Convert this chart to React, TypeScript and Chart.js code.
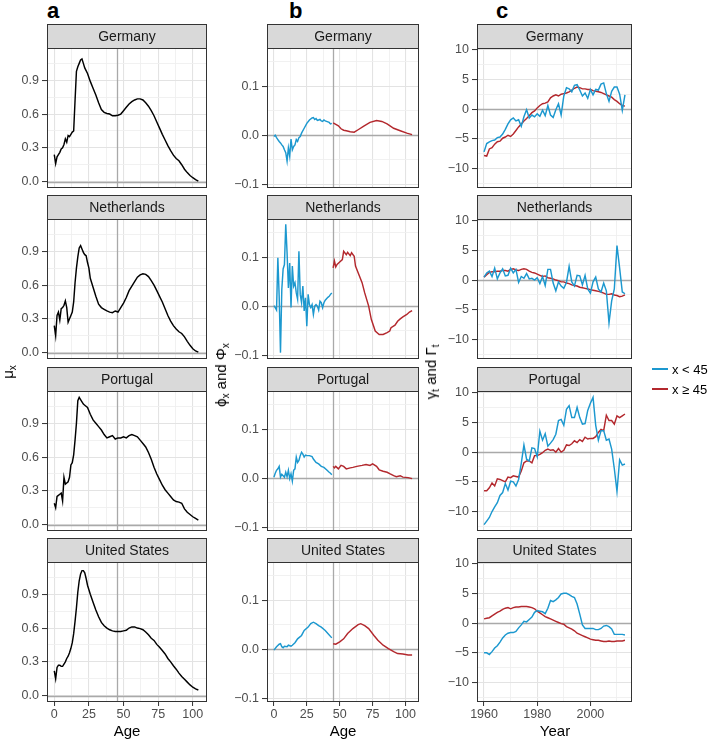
import React, { useEffect, useRef } from "react";
import { Chart, registerables } from "chart.js";

Chart.register(...registerables);

// ---------------- data ----------------
const COUNTRIES = ["Germany", "Netherlands", "Portugal", "United States"];

const AGE_TICKS = [0, 25, 50, 75, 100];
const AGE_MINOR = [12.5, 37.5, 62.5, 87.5];
const YEAR_TICKS = [1960, 1980, 2000];
const YEAR_MINOR = [1970, 1990, 2010];
const MU_TICKS = [0, 0.3, 0.6, 0.9];
const MU_MINOR = [0.15, 0.45, 0.75, 1.05];
const PHI_TICKS = [-0.1, 0, 0.1];
const PHI_MINOR = [-0.05, 0.05, 0.15];
const GAMMA_TICKS = [-10, -5, 0, 5, 10];
const GAMMA_MINOR = [-12.5, -7.5, -2.5, 2.5, 7.5];

const YEARS = [
  1960, 1961, 1962, 1963, 1964, 1965, 1966, 1967, 1968, 1969,
  1970, 1971, 1972, 1973, 1974, 1975, 1976, 1977, 1978, 1979,
  1980, 1981, 1982, 1983, 1984, 1985, 1986, 1987, 1988, 1989,
  1990, 1991, 1992, 1993, 1994, 1995, 1996, 1997, 1998, 1999,
  2000, 2001, 2002, 2003, 2004, 2005, 2006, 2007, 2008, 2009,
  2010, 2011, 2012, 2013,
];

// column a: mu_x
const muAgeDE = [0, 1, 2, 3, 4, 5, 6, 7, 8, 9, 10, 11, 12, 13, 14, 15, 16, 17, 18, 19, 20, 21, 22, 24, 26, 28, 30, 32, 34, 36, 38, 40, 42, 44, 46, 48, 50, 52, 54, 56, 58, 60, 62, 64, 66, 68, 70, 72, 74, 76, 78, 80, 82, 84, 86, 88, 90, 92, 94, 96, 98, 100, 102, 104];
const muDE = [0.24, 0.16, 0.22, 0.24, 0.26, 0.29, 0.3, 0.33, 0.38, 0.35, 0.41, 0.4, 0.42, 0.44, 0.45, 0.72, 0.98, 1.02, 1.05, 1.08, 1.09, 1.05, 1.01, 0.96, 0.89, 0.83, 0.77, 0.7, 0.64, 0.615, 0.605, 0.6, 0.585, 0.585, 0.59, 0.6, 0.63, 0.66, 0.69, 0.71, 0.725, 0.735, 0.735, 0.725, 0.7, 0.67, 0.63, 0.585, 0.53, 0.475, 0.42, 0.37, 0.32, 0.275, 0.235, 0.205, 0.185, 0.15, 0.11, 0.08, 0.055, 0.035, 0.018, 0.005];

const muAgeNL = [0, 1, 2, 3, 4, 5, 6, 7, 8, 9, 10, 11, 12, 13, 14, 15, 16, 17, 18, 19, 20, 21, 22, 23, 24, 25, 26, 27, 28, 30, 32, 34, 36, 38, 40, 42, 44, 45, 46, 48, 50, 52, 54, 56, 58, 60, 62, 64, 66, 68, 70, 72, 74, 76, 78, 80, 82, 84, 86, 88, 90, 92, 94, 96, 98, 100, 102, 104];
const muNL = [0.24, 0.15, 0.33, 0.36, 0.29, 0.39, 0.4, 0.42, 0.46, 0.4, 0.27, 0.3, 0.33, 0.36, 0.45, 0.62, 0.75, 0.85, 0.93, 0.95, 0.92, 0.89, 0.87, 0.86, 0.8, 0.75, 0.66, 0.62, 0.58, 0.5, 0.43, 0.4, 0.385, 0.37, 0.36, 0.355, 0.37, 0.365, 0.36, 0.4, 0.44, 0.49, 0.55, 0.59, 0.63, 0.67, 0.69, 0.7, 0.695, 0.675, 0.64, 0.6, 0.55, 0.5, 0.45, 0.39, 0.33, 0.28, 0.24, 0.21, 0.185, 0.17, 0.14, 0.1, 0.065, 0.035, 0.015, 0.004];

const muAgePT = [0, 1, 2, 3, 4, 5, 6, 7, 8, 9, 10, 11, 12, 13, 14, 15, 16, 17, 18, 19, 20, 21, 22, 24, 26, 28, 30, 32, 34, 36, 38, 40, 42, 44, 46, 48, 50, 52, 54, 56, 58, 60, 62, 64, 66, 68, 70, 72, 74, 76, 78, 80, 82, 84, 86, 88, 90, 92, 94, 96, 98, 100, 102, 104];
const muPT = [0.19, 0.15, 0.25, 0.26, 0.27, 0.28, 0.21, 0.42, 0.36, 0.37, 0.38, 0.42, 0.53, 0.55, 0.62, 0.75, 0.9, 1.1, 1.13, 1.11, 1.09, 1.07, 1.06, 1.04, 0.98, 0.93, 0.9, 0.87, 0.84, 0.8, 0.77, 0.78, 0.79, 0.76, 0.77, 0.77, 0.78, 0.77, 0.79, 0.8, 0.79, 0.78, 0.75, 0.72, 0.69, 0.64, 0.58, 0.51, 0.45, 0.4, 0.35, 0.31, 0.28, 0.25, 0.22, 0.205, 0.2, 0.19, 0.14, 0.11, 0.09, 0.07, 0.055, 0.04];

const muAgeUS = [0, 1, 2, 3, 4, 5, 6, 7, 8, 9, 10, 11, 12, 13, 14, 15, 16, 17, 18, 19, 20, 21, 22, 23, 24, 25, 26, 28, 30, 32, 34, 36, 38, 40, 42, 44, 46, 48, 50, 52, 54, 56, 58, 60, 62, 64, 66, 68, 70, 72, 74, 76, 78, 80, 82, 84, 86, 88, 90, 92, 94, 96, 98, 100, 102, 104];
const muUS = [0.22, 0.15, 0.25, 0.27, 0.27, 0.26, 0.26, 0.28, 0.3, 0.33, 0.35, 0.38, 0.42, 0.47, 0.55, 0.66, 0.78, 0.92, 1.02, 1.08, 1.11, 1.11, 1.09, 1.04, 0.98, 0.94, 0.9, 0.83, 0.76, 0.7, 0.65, 0.62, 0.6, 0.585, 0.575, 0.57, 0.57, 0.57, 0.575, 0.58, 0.6, 0.61, 0.61, 0.6, 0.595, 0.585, 0.565, 0.54, 0.51, 0.49, 0.455, 0.43, 0.4, 0.37, 0.33, 0.3, 0.265, 0.235, 0.2, 0.17, 0.145, 0.12, 0.095, 0.075, 0.06, 0.05];

// column b: phi_x (x < 45) and Phi_x (x >= 45)
const phiAgeDE = [0, 1, 2, 3, 4, 5, 6, 7, 8, 9, 10, 11, 12, 13, 14, 15, 16, 17, 18, 19, 20, 21, 23, 25, 27, 29, 30, 31, 32, 33, 34, 35, 36, 37, 38, 39, 40, 42, 43, 44];
const phiDE = [-0.003, 0, -0.005, -0.009, -0.013, -0.016, -0.02, -0.023, -0.03, -0.036, -0.053, -0.026, -0.043, -0.008, -0.03, -0.023, -0.02, -0.009, -0.013, -0.005, -0.003, 0.004, 0.014, 0.024, 0.031, 0.035, 0.036, 0.032, 0.034, 0.03, 0.031, 0.032, 0.029, 0.028, 0.031, 0.029, 0.028, 0.026, 0.023, 0.024];
const PhiAgeDE = [45, 49, 51, 53, 55, 58, 61, 64, 68, 73, 78, 82, 86, 91, 96, 101, 105];
const PhiDE = [0.025, 0.019, 0.013, 0.01, 0.009, 0.007, 0.006, 0.011, 0.018, 0.026, 0.03, 0.028, 0.023, 0.014, 0.009, 0.004, 0.001];

const phiAgeNL = [0, 1, 2, 3, 4, 5, 6, 7, 8, 9, 10, 11, 12, 13, 14, 15, 16, 17, 18, 19, 20, 21, 22, 23, 24, 25, 26, 27, 28, 29, 30, 31, 32, 33, 34, 35, 36, 37, 38, 39, 40, 41, 42, 43, 44];
const phiNL = [0.001, -0.003, -0.008, 0.099, 0.02, -0.095, 0.034, 0.076, 0.085, 0.167, 0.109, 0.037, 0.088, -0.003, 0.082, 0.041, 0.048, 0.027, 0.014, 0.112, 0.024, 0.007, 0.041, -0.01, 0.017, -0.041, 0.024, 0.003, -0.003, 0.003, -0.017, 0, 0.003, 0, -0.008, 0.01, 0.007, -0.003, 0.007, 0.012, 0.015, 0.018, 0.02, 0.024, 0.027];
const PhiAgeNL = [45, 46, 47, 48, 50, 52, 53, 55, 56, 58, 59, 61, 62, 64, 67, 69, 72, 74, 77, 80, 83, 86, 88, 89, 92, 94, 96, 98, 101, 103, 105];
const PhiNL = [0.078, 0.092, 0.08, 0.085, 0.09, 0.095, 0.112, 0.105, 0.11, 0.103, 0.109, 0.102, 0.082, 0.068, 0.048, 0.027, 0, -0.027, -0.051, -0.058, -0.058, -0.054, -0.051, -0.044, -0.039, -0.031, -0.026, -0.022, -0.017, -0.012, -0.009];

const phiAgePT = [0, 1, 2, 3, 4, 5, 6, 7, 8, 9, 10, 11, 12, 13, 14, 15, 16, 17, 18, 19, 20, 21, 22, 23, 24, 25, 27, 29, 30, 32, 34, 36, 38, 40, 42, 43, 44];
const phiPT = [0.002, 0.01, 0.016, 0.019, 0.024, 0.002, 0.008, 0.005, 0.002, 0.012, 0.003, 0.016, -0.001, 0.009, -0.006, 0.016, 0.019, 0.043, 0.032, 0.036, 0.046, 0.053, 0.049, 0.043, 0.047, 0.046, 0.046, 0.044, 0.039, 0.032, 0.029, 0.024, 0.022, 0.017, 0.012, 0.01, 0.007];
const PhiAgePT = [45, 46, 47, 49, 51, 53, 55, 58, 60, 63, 67, 70, 73, 75, 78, 80, 83, 86, 88, 91, 93, 96, 98, 102, 105];
const PhiPT = [0.024, 0.021, 0.024, 0.019, 0.026, 0.024, 0.019, 0.021, 0.022, 0.024, 0.026, 0.028, 0.026, 0.029, 0.024, 0.017, 0.014, 0.012, 0.009, 0.005, 0.003, 0.005, 0.002, 0.001, -0.001];

const phiAgeUS = [0, 2, 4, 5, 6, 7, 8, 10, 11, 13, 14, 16, 18, 21, 23, 26, 28, 30, 32, 34, 36, 39, 41, 44];
const phiUS = [-0.002, 0.005, 0.01, 0.011, 0.005, 0.003, 0.006, 0.005, 0.008, 0.006, 0.008, 0.013, 0.021, 0.028, 0.038, 0.045, 0.052, 0.055, 0.052, 0.048, 0.045, 0.038, 0.032, 0.023];
const PhiAgeUS = [45, 47, 50, 53, 56, 60, 64, 66, 69, 72, 76, 79, 83, 87, 91, 94, 98, 102, 105];
const PhiUS = [0.011, 0.01, 0.015, 0.021, 0.032, 0.042, 0.05, 0.052, 0.048, 0.042, 0.028, 0.018, 0.008, 0.001, -0.005, -0.009, -0.01, -0.012, -0.012];

// column c: gamma_t (x < 45) and Gamma_t (x >= 45), 1960-2013
const gammaDE = [-7.2, -5.8, -5.5, -5.3, -5.2, -4.8, -4.7, -4.2, -3.4, -2.5, -1.8, -1.5, -2.0, -1.8, -2.9, -1.3, -0.1, -1.5, -1.0, -1.3, -0.8, -1.2, -0.2, -1.1, 0.6, -1.0, -1.4, -0.1, 0.9, -1.0, 2.2, 3.6, 3.4, 2.9, 4.0, 4.1, 3.2, 2.2, 2.7, 1.8, 3.3, 2.4, 3.3, 3.2, 4.2, 4.4, 2.6, 1.3, 3.0, 3.7, 3.7, 2.5, -0.2, 2.4];
const GammaDE = [-7.8, -7.9, -6.7, -6.5, -5.9, -5.5, -5.4, -4.9, -4.7, -4.4, -4.6, -4.2, -3.6, -3.0, -2.5, -2.0, -1.6, -1.1, -0.6, -0.3, 0.2, 0.6, 0.9, 1.0, 1.2, 1.9, 2.2, 2.4, 2.2, 2.5, 2.6, 2.7, 2.9, 3.2, 3.5, 3.7, 3.6, 3.4, 3.4, 3.3, 3.3, 3.1, 3.0, 2.9, 2.8, 2.6, 2.4, 2.2, 2.0, 1.6, 1.3, 0.9, 0.6, 0.5];

const gammaNL = [0.5, 1.2, 1.5, 0.6, 2.0, 0.2, 1.2, 1.9, 0.7, 0.8, 2.0, 1.2, 1.8, -0.4, 0.6, 0.3, 1.1, 0.2, 0.3, 0.0, 0.4, -0.6, 0.6, -0.9, 1.8, 1.8, -0.5, -1.8, -0.3, -1.0, -1.4, -0.4, 2.3, -0.3, -1.0, 0.8, 0.7, -0.8, 0.8, -1.5, -2.2, -0.3, 0.5, -1.5, -2.0, -0.5, -1.8, -7.2, -3.5, -1.5, 5.8, 2.0, -2.0, -2.3];
const GammaNL = [0.5, 0.9, 1.3, 1.4, 1.4, 1.5, 1.5, 1.6, 1.6, 1.5, 1.8, 1.9, 1.7, 1.6, 1.8, 1.9, 1.8, 1.5, 1.3, 1.2, 1.0, 0.8, 0.6, 0.7, 0.4, 0.3, 0.2, 0.0, -0.1, -0.3, -0.3, -0.5, -0.6, -0.8, -0.9, -1.0, -1.2, -1.3, -1.4, -1.5, -1.6, -1.7, -1.8, -1.9, -2.0, -2.2, -2.4, -2.4, -2.3, -2.5, -2.6, -2.8, -2.7, -2.5];

const gammaPT = [-12.2, -11.6, -11.0, -10.0, -9.2, -8.5, -7.3, -6.8, -5.3, -6.4, -4.9, -5.0, -5.7, -4.6, -1.9, 1.2, -1.2, -1.5, 0.7, 0.6, -0.8, 3.5, 2.0, 3.1, 1.0, 1.5, 2.1, 3.0, 5.3, 5.5, 4.5, 7.2, 7.8, 5.8, 5.8, 7.5, 5.8, 4.7, 4.8, 7.0, 8.2, 9.2, 4.5, 2.0, 3.6, 3.6, 2.0, 2.2, 0.5, -2.8, -6.6, -1.3, -2.2, -2.0];
const GammaPT = [-6.5, -6.5, -6.0, -5.2, -5.7, -4.5, -4.6, -4.8, -5.0, -4.2, -4.3, -4.0, -4.1, -4.2, -3.2, -1.8, -1.5, -1.5, -1.8, -0.6, -0.6, -0.4, -0.1, 0.3, 0.5, 0.3, 0.4, 0.0, 0.6, 0.0, 0.3, 1.2, 1.1, 1.4, 1.9, 1.6, 2.1, 1.8, 2.5, 2.2, 2.3, 2.3, 2.6, 3.3, 3.8, 3.6, 6.2, 5.3, 5.3, 4.7, 6.1, 5.8, 6.1, 6.4];

const gammaUS = [-5.0, -5.0, -5.3, -4.8, -4.2, -3.8, -3.2, -2.5, -2.0, -1.7, -1.6, -1.6, -1.4, -0.8, -0.3, 0.3, 0.2, 0.6, 1.0, 1.8, 2.1, 2.0, 1.9, 1.6, 2.5, 3.8, 3.6, 3.9, 4.3, 4.9, 5.0, 5.0, 4.8, 4.5, 4.3, 3.2, 1.5, -0.3, -0.9, -0.9, -0.9, -0.9, -1.1, -1.1, -0.9, -0.5, -0.4, -0.6, -1.0, -1.9, -1.9, -1.9, -1.9, -2.0];
const GammaUS = [0.7, 0.8, 0.9, 1.2, 1.5, 1.8, 2.0, 2.3, 2.5, 2.6, 2.4, 2.6, 2.7, 2.7, 2.8, 2.8, 2.8, 2.7, 2.6, 2.4, 2.0, 1.7, 1.4, 1.1, 0.9, 0.7, 0.5, 0.3, 0.1, -0.1, -0.2, -0.6, -0.8, -1.0, -1.3, -1.7, -1.9, -2.1, -2.3, -2.5, -2.7, -2.8, -2.9, -2.9, -3.0, -3.1, -3.1, -3.0, -3.1, -3.1, -3.0, -3.0, -3.0, -2.9];

// ---------------- styling ----------------
const BLUE = "#1C98CF";
const RED = "#B3282D";
const FONT = "'Liberation Sans', Arial, Helvetica, sans-serif";
const STRIP_H = 24;
const PLOT_H = 140;
const Y_W = 40;
const X_H = 20;
const PAD_R = 3;
const TICK_LEN = 5;
const STRIP_TOPS = [24, 195, 367, 538];
const COLS = [
  { plotLeft: 47, plotW: 160 },
  { plotLeft: 267, plotW: 152 },
  { plotLeft: 477, plotW: 155 },
];
const GRID_MAJOR = "#E3E3E3";
const GRID_MINOR = "#EFEFEF";

type Series = { xs: number[]; ys: number[]; color: string };
type PanelProps = {
  col: number;
  row: number;
  title: string;
  xMin: number;
  xMax: number;
  xMajor: number[];
  xMinor: number[];
  yMin: number;
  yMax: number;
  yMajor: number[];
  yMinor: number[];
  yFmt: (v: number) => string;
  vline: number | null;
  series: Series[];
};

const minus = (s: string) => s.replace("-", "\u2212");
const isIn = (arr: number[], v: number) => arr.some((m) => Math.abs(m - v) < 1e-9);

function Panel(p: PanelProps) {
  const ref = useRef<HTMLCanvasElement | null>(null);
  const showX = p.row === 3;
  const { plotLeft, plotW } = COLS[p.col];
  const W = Y_W + plotW + PAD_R;
  const H = STRIP_H + PLOT_H + (showX ? X_H : 0);

  useEffect(() => {
    const canvas = ref.current;
    if (!canvas) return;
    const panelPlugin = {
      id: "panelDeco",
      beforeDatasetsDraw(chart: any) {
        const { ctx, chartArea, scales } = chart;
        ctx.save();
        ctx.strokeStyle = "#A9A9A9";
        ctx.lineWidth = 1.3;
        const y0 = Math.round(scales.y.getPixelForValue(0)) + 0.5;
        ctx.beginPath();
        ctx.moveTo(chartArea.left, y0);
        ctx.lineTo(chartArea.right, y0);
        ctx.stroke();
        if (p.vline !== null) {
          const xv = Math.round(scales.x.getPixelForValue(p.vline)) + 0.5;
          ctx.beginPath();
          ctx.moveTo(xv, chartArea.top);
          ctx.lineTo(xv, chartArea.bottom);
          ctx.stroke();
        }
        ctx.restore();
      },
      afterDraw(chart: any) {
        const { ctx, chartArea } = chart;
        const l = chartArea.left;
        const t = chartArea.top;
        const w = chartArea.right - chartArea.left;
        const h = chartArea.bottom - chartArea.top;
        ctx.save();
        ctx.fillStyle = "#D9D9D9";
        ctx.fillRect(l, t - STRIP_H, w, STRIP_H);
        ctx.strokeStyle = "#333333";
        ctx.lineWidth = 1;
        ctx.strokeRect(l + 0.5, t - STRIP_H + 0.5, w - 1, STRIP_H);
        ctx.strokeRect(l + 0.5, t + 0.5, w - 1, h - 1);
        ctx.fillStyle = "#1A1A1A";
        ctx.font = `14px ${FONT}`;
        ctx.textAlign = "center";
        ctx.textBaseline = "middle";
        ctx.fillText(p.title, l + w / 2, t - STRIP_H / 2 + 1);
        ctx.restore();
      },
    };

    const zeroPad = (s: any) => {
      s.paddingLeft = 0;
      s.paddingRight = 0;
      s.paddingTop = 0;
      s.paddingBottom = 0;
    };

    const chart = new Chart(canvas, {
      type: "line",
      data: {
        datasets: p.series.map((s) => ({
          data: s.xs.map((x, i) => ({ x, y: s.ys[i] })),
          borderColor: s.color,
          borderWidth: 1.45,
          pointRadius: 0,
          fill: false,
          tension: 0,
        })),
      },
      options: {
        animation: false,
        responsive: false,
        devicePixelRatio: 1,
        events: [],
        layout: { padding: { top: STRIP_H, right: PAD_R, left: 0, bottom: 0 } },
        plugins: {
          legend: { display: false },
          tooltip: { enabled: false },
          title: { display: false },
        },
        scales: {
          x: {
            type: "linear",
            min: p.xMin,
            max: p.xMax,
            afterBuildTicks: (s: any) => {
              s.ticks = [...p.xMajor, ...p.xMinor]
                .sort((a, b) => a - b)
                .map((v) => ({ value: v }));
            },
            afterFit: (s: any) => {
              s.height = showX ? X_H : 0;
              zeroPad(s);
            },
            ticks: {
              display: showX,
              autoSkip: false,
              maxRotation: 0,
              padding: 1,
              color: "#4D4D4D",
              font: { family: FONT, size: 12.5 },
              callback: (v: any) => (isIn(p.xMajor, Number(v)) ? String(v) : ""),
            },
            grid: {
              color: (c: any) => (isIn(p.xMajor, c.tick?.value) ? GRID_MAJOR : GRID_MINOR),
              lineWidth: (c: any) => (isIn(p.xMajor, c.tick?.value) ? 1.1 : 0.9),
              drawTicks: showX,
              tickLength: TICK_LEN - 1,
              tickWidth: 1,
              tickColor: (c: any) => (isIn(p.xMajor, c.tick?.value) ? "#333333" : "rgba(0,0,0,0)"),
            },
            border: { display: false },
          },
          y: {
            type: "linear",
            position: "left",
            min: p.yMin,
            max: p.yMax,
            afterBuildTicks: (s: any) => {
              s.ticks = [...p.yMajor, ...p.yMinor]
                .sort((a, b) => a - b)
                .map((v) => ({ value: v }));
            },
            afterFit: (s: any) => {
              s.width = Y_W;
              zeroPad(s);
            },
            ticks: {
              autoSkip: false,
              padding: 3,
              color: "#4D4D4D",
              font: { family: FONT, size: 12.5 },
              callback: (v: any) => (isIn(p.yMajor, Number(v)) ? p.yFmt(Number(v)) : ""),
            },
            grid: {
              color: (c: any) => (isIn(p.yMajor, c.tick?.value) ? GRID_MAJOR : GRID_MINOR),
              lineWidth: (c: any) => (isIn(p.yMajor, c.tick?.value) ? 1.1 : 0.9),
              drawTicks: true,
              tickLength: TICK_LEN,
              tickWidth: 1,
              tickColor: (c: any) => (isIn(p.yMajor, c.tick?.value) ? "#333333" : "rgba(0,0,0,0)"),
            },
            border: { display: false },
          },
        },
      } as any,
      plugins: [panelPlugin as any],
    });
    return () => chart.destroy();
  }, []);

  return (
    <canvas
      ref={ref}
      width={W}
      height={H}
      style={{
        position: "absolute",
        left: plotLeft - Y_W,
        top: STRIP_TOPS[p.row],
        width: W,
        height: H,
      }}
    />
  );
}

const AGE_RANGE = { xMin: -5.25, xMax: 110.25, xMajor: AGE_TICKS, xMinor: AGE_MINOR };
const YEAR_RANGE = { xMin: 1957.35, xMax: 2015.65, xMajor: YEAR_TICKS, xMinor: YEAR_MINOR };
const MU_RANGE = { yMin: -0.0565, yMax: 1.1865, yMajor: MU_TICKS, yMinor: MU_MINOR, yFmt: (v: number) => v.toFixed(1) };
const PHI_RANGE = { yMin: -0.108, yMax: 0.178, yMajor: PHI_TICKS, yMinor: PHI_MINOR, yFmt: (v: number) => minus(v.toFixed(1)) };
const GAMMA_RANGE = { yMin: -13.27, yMax: 10.27, yMajor: GAMMA_TICKS, yMinor: GAMMA_MINOR, yFmt: (v: number) => minus(String(v)) };

const MU_SERIES: Series[][] = [
  [{ xs: muAgeDE, ys: muDE, color: "#000000" }],
  [{ xs: muAgeNL, ys: muNL, color: "#000000" }],
  [{ xs: muAgePT, ys: muPT, color: "#000000" }],
  [{ xs: muAgeUS, ys: muUS, color: "#000000" }],
];
const PHI_SERIES: Series[][] = [
  [{ xs: phiAgeDE, ys: phiDE, color: BLUE }, { xs: PhiAgeDE, ys: PhiDE, color: RED }],
  [{ xs: phiAgeNL, ys: phiNL, color: BLUE }, { xs: PhiAgeNL, ys: PhiNL, color: RED }],
  [{ xs: phiAgePT, ys: phiPT, color: BLUE }, { xs: PhiAgePT, ys: PhiPT, color: RED }],
  [{ xs: phiAgeUS, ys: phiUS, color: BLUE }, { xs: PhiAgeUS, ys: PhiUS, color: RED }],
];
const GAMMA_SERIES: Series[][] = [
  [{ xs: YEARS, ys: gammaDE, color: BLUE }, { xs: YEARS, ys: GammaDE, color: RED }],
  [{ xs: YEARS, ys: gammaNL, color: BLUE }, { xs: YEARS, ys: GammaNL, color: RED }],
  [{ xs: YEARS, ys: gammaPT, color: BLUE }, { xs: YEARS, ys: GammaPT, color: RED }],
  [{ xs: YEARS, ys: gammaUS, color: BLUE }, { xs: YEARS, ys: GammaUS, color: RED }],
];

const txt = (extra: React.CSSProperties): React.CSSProperties => ({
  position: "absolute",
  fontFamily: FONT,
  whiteSpace: "nowrap",
  lineHeight: 1,
  color: "#000",
  ...extra,
});

const subStyle: React.CSSProperties = { fontSize: 10, verticalAlign: "-3px" };

export default function App() {
  return (
    <div style={{ position: "absolute", left: 0, top: 0, width: 709, height: 740, background: "#fff", overflow: "hidden" }}>
      {COUNTRIES.map((c, r) => (
        <React.Fragment key={c}>
          <Panel col={0} row={r} title={c} {...AGE_RANGE} {...MU_RANGE} vline={45} series={MU_SERIES[r]} />
          <Panel col={1} row={r} title={c} {...AGE_RANGE} {...PHI_RANGE} vline={45} series={PHI_SERIES[r]} />
          <Panel col={2} row={r} title={c} {...YEAR_RANGE} {...GAMMA_RANGE} vline={null} series={GAMMA_SERIES[r]} />
        </React.Fragment>
      ))}

      {/* panel letters */}
      <div style={txt({ left: 47, top: 0, fontSize: 22, fontWeight: "bold", lineHeight: "22px" })}>a</div>
      <div style={txt({ left: 289, top: 0, fontSize: 22, fontWeight: "bold", lineHeight: "22px" })}>b</div>
      <div style={txt({ left: 496, top: 0, fontSize: 22, fontWeight: "bold", lineHeight: "22px" })}>c</div>

      {/* x axis titles */}
      <div style={txt({ left: 127, top: 730, fontSize: 15, transform: "translate(-50%,-50%)" })}>Age</div>
      <div style={txt({ left: 343, top: 730, fontSize: 15, transform: "translate(-50%,-50%)" })}>Age</div>
      <div style={txt({ left: 555, top: 730, fontSize: 15, transform: "translate(-50%,-50%)" })}>Year</div>

      {/* y axis titles */}
      <div style={txt({ left: 9, top: 372, fontSize: 15, transform: "translate(-50%,-50%) rotate(-90deg)" })}>
        μ<span style={subStyle}>x</span>
      </div>
      <div style={txt({ left: 222, top: 375, fontSize: 15, transform: "translate(-50%,-50%) rotate(-90deg)" })}>
        ϕ<span style={subStyle}>x</span> and Φ<span style={subStyle}>x</span>
      </div>
      <div style={txt({ left: 432, top: 372, fontSize: 15, transform: "translate(-50%,-50%) rotate(-90deg)" })}>
        γ<span style={subStyle}>t</span> and Γ<span style={subStyle}>t</span>
      </div>

      {/* legend */}
      <div style={{ position: "absolute", left: 652, top: 368, width: 16, height: 2, background: BLUE }} />
      <div style={txt({ left: 672, top: 369, fontSize: 13, transform: "translateY(-50%)" })}>x &lt; 45</div>
      <div style={{ position: "absolute", left: 652, top: 388, width: 16, height: 2, background: RED }} />
      <div style={txt({ left: 672, top: 389, fontSize: 13, transform: "translateY(-50%)" })}>x ≥ 45</div>
    </div>
  );
}
